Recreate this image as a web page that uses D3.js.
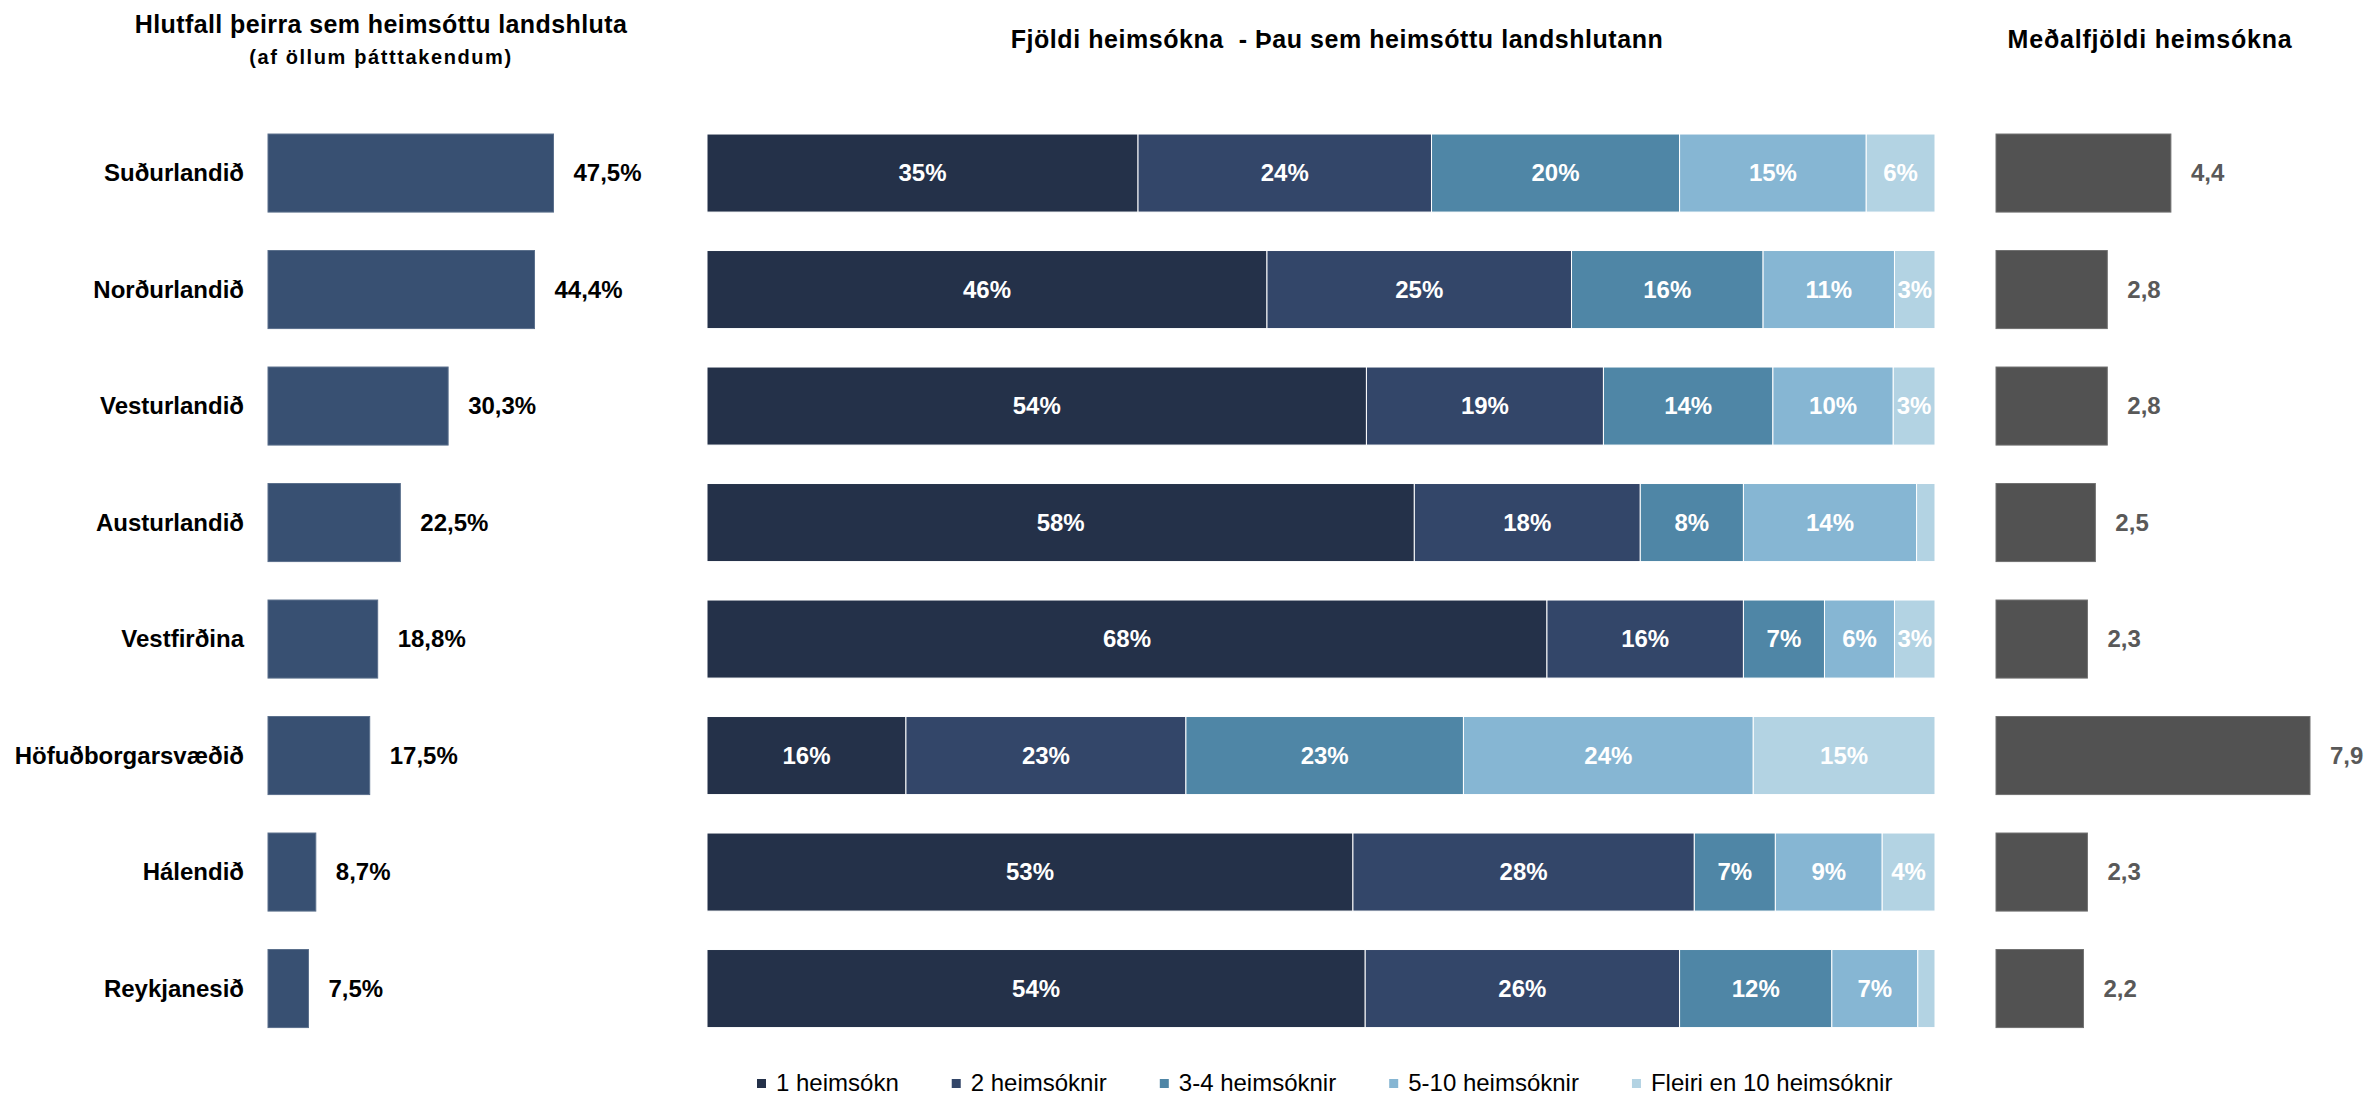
<!DOCTYPE html>
<html>
<head>
<meta charset="utf-8">
<script src="https://cdn.jsdelivr.net/npm/d3@7"></script>
<style>
  body { margin: 0; background: #fff; }
  svg { display: block; font-family: "Liberation Sans", Arial, sans-serif; }
</style>
</head>
<body>
<div id="chart"></div>
<script>
// data
var regions = ["Suðurlandið", "Norðurlandið", "Vesturlandið", "Austurlandið",
               "Vestfirðina", "Höfuðborgarsvæðið", "Hálendið", "Reykjanesið"];

// share of all participants that visited each region (%)
var visitedShare = [47.5, 44.4, 30.3, 22.5, 18.8, 17.5, 8.7, 7.5];

// number of visits among those who visited (%)
var visitGroups = ["1 heimsókn", "2 heimsóknir", "3-4 heimsóknir", "5-10 heimsóknir", "Fleiri en 10 heimsóknir"];
var oneVisit   = [35.1, 45.6, 53.7, 57.6, 68.4, 16.2, 52.6, 53.6];
var twoVisits  = [23.9, 24.8, 19.3, 18.4, 16.0, 22.8, 27.8, 25.6];
var threeFour  = [20.2, 15.6, 13.8,  8.4,  6.6, 22.6,  6.6, 12.4];
var fiveTen    = [15.2, 10.7,  9.8, 14.1,  5.7, 23.6,  8.7,  7.0];
var moreThan10 = [ 5.6,  3.3,  3.4,  1.5,  3.3, 14.8,  4.3,  1.4];

// average number of visits
var meanVisits = [4.4, 2.8, 2.8, 2.5, 2.3, 7.9, 2.3, 2.2];

var groupColors = ["#243149", "#334669", "#4f86a6", "#86b6d3", "#b3d3e3"];

const width = 2371, height = 1096;

var svg = d3.select("#chart").append("svg")
    .attr("width", width)
    .attr("height", height);

// rows shared by the three panels
const y = d3.scaleBand()
    .domain(regions)
    .range([114.8, 1046.8])
    .paddingInner(0.33)
    .paddingOuter(0.165);

// ---- left panel: share that visited ----
// the value axis starts a little left of where the bars are clipped
const xLeft = d3.scaleLinear().domain([0, 47.5]).range([262.5, 553.5]);
const leftStart = 268;
const fmtComma = function (v, digits) { return v.toFixed(digits).replace(".", ","); };

svg.append("text")
    .attr("x", 381).attr("y", 33)
    .attr("text-anchor", "middle")
    .style("font-size", "25px").style("font-weight", "bold")
    .style("letter-spacing", "0.4px")
    .text("Hlutfall þeirra sem heimsóttu landshluta");

svg.append("text")
    .attr("x", 381).attr("y", 64)
    .attr("text-anchor", "middle")
    .style("font-size", "20px").style("font-weight", "bold")
    .style("letter-spacing", "1.6px")
    .text("(af öllum þátttakendum)");

svg.append("g")
  .selectAll("text")
  .data(regions)
  .join("text")
    .attr("x", 244)
    .attr("y", d => y(d) + y.bandwidth() / 2)
    .attr("dy", "0.35em")
    .attr("text-anchor", "end")
    .style("font-size", "24px").style("font-weight", "bold")
    .text(d => d);

svg.append("g")
  .selectAll("rect")
  .data(visitedShare)
  .join("rect")
    .attr("x", leftStart)
    .attr("y", (d, i) => y(regions[i]))
    .attr("width", d => xLeft(d) - leftStart)
    .attr("height", y.bandwidth())
    .attr("fill", "#385072")
    .attr("stroke", "#5a6f8c")
    .attr("stroke-width", 1);

svg.append("g")
  .selectAll("text")
  .data(visitedShare)
  .join("text")
    .attr("x", d => xLeft(d) + 20)
    .attr("y", (d, i) => y(regions[i]) + y.bandwidth() / 2)
    .attr("dy", "0.35em")
    .style("font-size", "24px").style("font-weight", "bold")
    .text(d => fmtComma(d, 1) + "%");

// ---- middle panel: number of visits, stacked ----
const table = regions.map(function (r, i) {
    return {
        region: r,
        "1 heimsókn": oneVisit[i],
        "2 heimsóknir": twoVisits[i],
        "3-4 heimsóknir": threeFour[i],
        "5-10 heimsóknir": fiveTen[i],
        "Fleiri en 10 heimsóknir": moreThan10[i]
    };
});

const stack = d3.stack().keys(visitGroups)(table);
const xMid = d3.scaleLinear().domain([0, 100]).range([707, 1935]);
const color = d3.scaleOrdinal().domain(visitGroups).range(groupColors);

svg.append("text")
    .attr("x", 1337).attr("y", 48)
    .attr("text-anchor", "middle")
    .style("white-space", "pre")
    .style("font-size", "25px").style("font-weight", "bold")
    .style("letter-spacing", "0.55px")
    .text("Fjöldi heimsókna  - Þau sem heimsóttu landshlutann");

const layers = svg.append("g")
  .selectAll("g")
  .data(stack)
  .join("g")
    .attr("fill", d => color(d.key));

layers.selectAll("rect")
  .data(d => d)
  .join("rect")
    .attr("x", d => xMid(d[0]))
    .attr("y", d => y(d.data.region))
    .attr("width", d => xMid(d[1]) - xMid(d[0]))
    .attr("height", y.bandwidth())
    .attr("stroke", "#ffffff")
    .attr("stroke-width", 1);

layers.selectAll("text")
  .data(d => d.filter(p => p[1] - p[0] >= 2.5))
  .join("text")
    .attr("x", d => (xMid(d[0]) + xMid(d[1])) / 2)
    .attr("y", d => y(d.data.region) + y.bandwidth() / 2)
    .attr("dy", "0.35em")
    .attr("text-anchor", "middle")
    .attr("fill", "#ffffff")
    .style("font-size", "24px").style("font-weight", "bold")
    .text(d => Math.round(d[1] - d[0]) + "%");

// legend
const legend = svg.append("g");
var lx = 757;
visitGroups.forEach(function (k) {
    legend.append("rect")
        .attr("x", lx).attr("y", 1079)
        .attr("width", 9).attr("height", 9)
        .attr("fill", color(k));
    var t = legend.append("text")
        .attr("x", lx + 19).attr("y", 1091)
        .style("font-size", "24px")
        .text(k);
    lx += 19 + t.node().getComputedTextLength() + 53;
});

// ---- right panel: average visits ----
const xRight = d3.scaleLinear().domain([0, 7.9]).range([1996, 2310]);

svg.append("text")
    .attr("x", 2150).attr("y", 48)
    .attr("text-anchor", "middle")
    .style("font-size", "25px").style("font-weight", "bold")
    .style("letter-spacing", "0.8px")
    .text("Meðalfjöldi heimsókna");

svg.append("g")
  .selectAll("rect")
  .data(meanVisits)
  .join("rect")
    .attr("x", xRight(0))
    .attr("y", (d, i) => y(regions[i]))
    .attr("width", d => xRight(d) - xRight(0))
    .attr("height", y.bandwidth())
    .attr("fill", "#525252")
    .attr("stroke", "#707070")
    .attr("stroke-width", 1);

svg.append("g")
  .selectAll("text")
  .data(meanVisits)
  .join("text")
    .attr("x", d => xRight(d) + 20)
    .attr("y", (d, i) => y(regions[i]) + y.bandwidth() / 2)
    .attr("dy", "0.35em")
    .attr("fill", "#595959")
    .style("font-size", "24px").style("font-weight", "bold")
    .text(d => fmtComma(d, 1));
</script>
</body>
</html>
